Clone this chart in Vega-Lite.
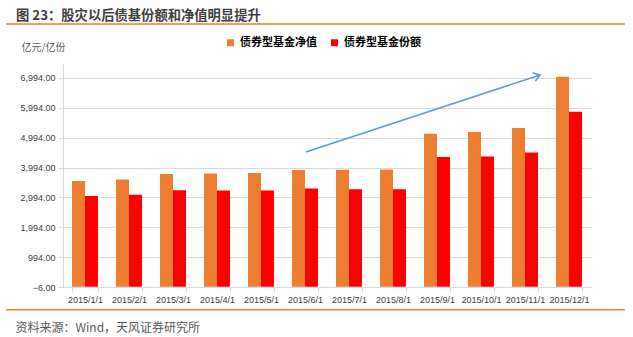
{
  "$schema": "https://vega.github.io/schema/vega-lite/v6.json",
  "width": 528,
  "height": 224,
  "autosize": {"type": "none"},
  "padding": {"left": 63, "top": 63, "right": 42, "bottom": 50},
  "background": "white",
  "config": {"font": "Liberation Sans, Noto Sans CJK SC", "view": {"stroke": null}},
  "title": {"text": "图 23：股灾以后债基份额和净值明显提升", "anchor": "start", "frame": "group", "dx": -47, "dy": 6, "offset": 0, "baseline": "middle", "fontSize": 13.3, "fontWeight": "bold", "color": "#404040", "font": "Noto Sans CJK SC"},
  "datasets": {
    "bars": [
      {"month": "2015/1/1", "series": "债券型基金净值", "value": 3547},
      {"month": "2015/1/1", "series": "债券型基金份额", "value": 3037},
      {"month": "2015/2/1", "series": "债券型基金净值", "value": 3594},
      {"month": "2015/2/1", "series": "债券型基金份额", "value": 3081},
      {"month": "2015/3/1", "series": "债券型基金净值", "value": 3781},
      {"month": "2015/3/1", "series": "债券型基金份额", "value": 3237},
      {"month": "2015/4/1", "series": "债券型基金净值", "value": 3794},
      {"month": "2015/4/1", "series": "债券型基金份额", "value": 3227},
      {"month": "2015/5/1", "series": "债券型基金净值", "value": 3814},
      {"month": "2015/5/1", "series": "债券型基金份额", "value": 3227},
      {"month": "2015/6/1", "series": "债券型基金净值", "value": 3914},
      {"month": "2015/6/1", "series": "债券型基金份额", "value": 3294},
      {"month": "2015/7/1", "series": "债券型基金净值", "value": 3920},
      {"month": "2015/7/1", "series": "债券型基金份额", "value": 3271},
      {"month": "2015/8/1", "series": "债券型基金净值", "value": 3927},
      {"month": "2015/8/1", "series": "债券型基金份额", "value": 3271},
      {"month": "2015/9/1", "series": "债券型基金净值", "value": 5127},
      {"month": "2015/9/1", "series": "债券型基金份额", "value": 4347},
      {"month": "2015/10/1", "series": "债券型基金净值", "value": 5181},
      {"month": "2015/10/1", "series": "债券型基金份额", "value": 4364},
      {"month": "2015/11/1", "series": "债券型基金净值", "value": 5314},
      {"month": "2015/11/1", "series": "债券型基金份额", "value": 4494},
      {"month": "2015/12/1", "series": "债券型基金净值", "value": 7037},
      {"month": "2015/12/1", "series": "债券型基金份额", "value": 5861}
    ],
    "arrow": [{"x": 5.52, "y": 4514, "x2": 10.84, "y2": 7092}],
    "head": [{"x": 10.84, "y": 7092}],
    "seplines": [
      {"x": -1.295, "x2": 12.77, "y": 8799},
      {"x": -1.295, "x2": 12.77, "y": -770}
    ]
  },
  "layer": [
    {
      "data": {"name": "bars"},
      "mark": {"type": "bar"},
      "encoding": {
        "x": {
          "field": "month", "type": "nominal", "sort": null,
          "scale": {"paddingInner": 0.41, "paddingOuter": 0.205},
          "axis": {
            "title": "资料来源：Wind，天风证券研究所",
            "labelAngle": 0, "labelFontSize": 9, "labelColor": "#404040", "labelPadding": 3,
            "tickBand": "extent", "tickSize": 5, "tickColor": "#d9d9d9", "domainColor": "#d9d9d9",
            "labelOverlap": false, "labelBound": false, "grid": false,
            "titleX": -48, "titleY": 40, "titleAlign": "left", "titleBaseline": "middle",
            "titleFont": "Noto Sans CJK SC",
            "titleFontSize": 12, "titleFontWeight": "normal", "titleColor": "#595959"
          }
        },
        "xOffset": {"field": "series", "type": "nominal", "scale": {"domain": ["债券型基金净值", "债券型基金份额"], "paddingInner": 0, "paddingOuter": 0}},
        "y": {
          "field": "value", "type": "quantitative",
          "scale": {"domain": [-6, 7494], "nice": false, "zero": false},
          "axis": {
            "values": [-6, 994, 1994, 2994, 3994, 4994, 5994, 6994], "tickCount": 30,
            "format": ",.2f", "grid": true, "gridColor": "#d9d9d9",
            "domainColor": "#d9d9d9", "tickColor": "#d9d9d9", "tickSize": 5,
            "labelFontSize": 9, "labelColor": "#404040", "labelPadding": 3, "labelOverlap": false,
            "title": "亿元/亿份", "titleAngle": 0, "titleX": -42, "titleY": -16,
            "titleAlign": "left", "titleBaseline": "middle", "titleFontSize": 10,
            "titleFont": "Noto Sans CJK SC",
            "titleFontWeight": "normal", "titleColor": "#595959"
          }
        },
        "color": {
          "field": "series", "type": "nominal",
          "scale": {"domain": ["债券型基金净值", "债券型基金份额"], "range": ["#ED7D31", "#FF0000"]},
          "legend": {
            "orient": "none", "legendX": 162, "legendY": -26, "direction": "horizontal",
            "title": null, "symbolType": "square", "symbolSize": 49, "symbolStrokeWidth": 0,
            "labelFont": "Noto Sans CJK SC",
            "labelFontSize": 11, "labelFontWeight": "bold", "labelColor": "#000000",
            "labelOffset": 4, "columnPadding": 12, "padding": 0
          }
        }
      }
    },
    {
      "data": {"name": "seplines"},
      "mark": {"type": "rule", "color": "#F07F1E", "strokeWidth": 1.5, "clip": false},
      "encoding": {
        "x": {"field": "x", "type": "quantitative", "scale": {"domain": [0, 12], "nice": false, "zero": false}, "axis": null},
        "x2": {"field": "x2"},
        "y": {"field": "y", "type": "quantitative", "scale": {"domain": [-6, 7494], "nice": false, "zero": false}}
      }
    },
    {
      "data": {"name": "arrow"},
      "mark": {"type": "rule", "color": "#5B9BD5", "strokeWidth": 1.5},
      "encoding": {
        "x": {"field": "x", "type": "quantitative", "scale": {"domain": [0, 12], "nice": false, "zero": false}, "axis": null},
        "x2": {"field": "x2"},
        "y": {"field": "y", "type": "quantitative", "scale": {"domain": [-6, 7494], "nice": false, "zero": false}},
        "y2": {"field": "y2"}
      }
    },
    {
      "data": {"name": "head"},
      "mark": {"type": "point", "shape": "M-1.4,-1L0,0L-1.4,1", "size": 81, "filled": false, "stroke": "#5B9BD5", "strokeWidth": 1.5, "angle": -18, "opacity": 1},
      "encoding": {
        "x": {"field": "x", "type": "quantitative", "scale": {"domain": [0, 12], "nice": false, "zero": false}, "axis": null},
        "y": {"field": "y", "type": "quantitative", "scale": {"domain": [-6, 7494], "nice": false, "zero": false}}
      }
    }
  ],
  "resolve": {"scale": {"x": "independent"}}
}
